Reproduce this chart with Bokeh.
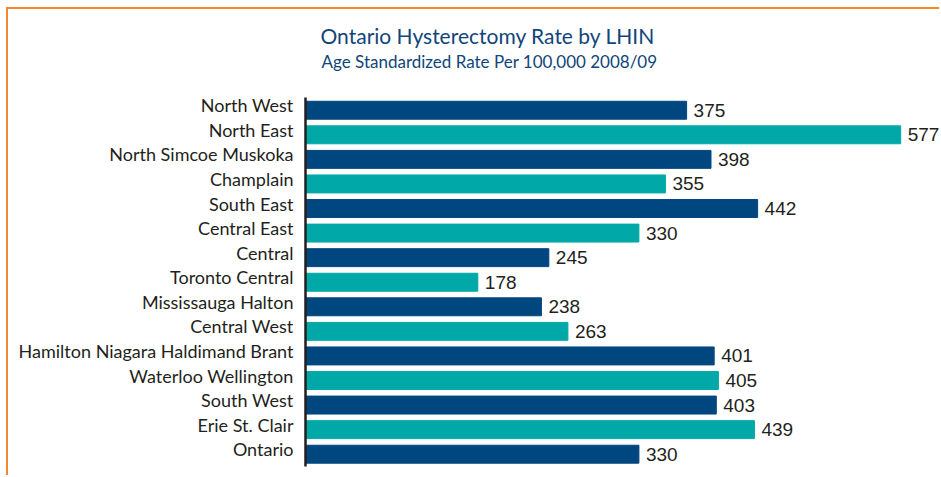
from bokeh.plotting import figure
from bokeh.models import ColumnDataSource, Range1d, FixedTicker
from bokeh.core.properties import value
from bokeh.embed import file_html
from bokeh.resources import INLINE

categories = ["North West", "North East", "North Simcoe Muskoka", "Champlain", "South East",
              "Central East", "Central", "Toronto Central", "Mississauga Halton", "Central West",
              "Hamilton Niagara Haldimand Brant", "Waterloo Wellington", "South West",
              "Erie St. Clair", "Ontario"]
rates = [375, 577, 398, 355, 442, 330, 245, 178, 238, 263, 401, 405, 403, 439, 330]
bar_colors = ["#00467f", "#00a9a7"] * 7 + ["#00467f"]
title_text = "Ontario Hysterectomy Rate by LHIN"
subtitle_text = "Age Standardized Rate Per 100,000 2008/09"

pos = list(range(len(categories)))          # 0 = top row
src = ColumnDataSource(dict(pos=pos, rate=rates, color=bar_colors,
                            label=[str(v) for v in rates]))

X0, X1 = 15.4, 615.5
Y_BOTTOM, Y_TOP = 14.5, -4.1
p = figure(width=933, height=468, output_backend="svg", toolbar_location=None,
           x_range=Range1d(X0, X1), y_range=Range1d(Y_BOTTOM, Y_TOP))
p.styles = {"border-top": "2px solid #f08a2c", "border-left": "2px solid #f08a2c",
            "margin-top": "7px", "margin-left": "6px"}
p.min_border_left = 297
p.min_border_right = 0
p.min_border_top = 0
p.min_border_bottom = 11
p.outline_line_color = None
p.grid.visible = False
p.xaxis.visible = False
p.background_fill_color = "white"
p.border_fill_color = "white"

p.hbar(y="pos", right="rate", left=0, height=0.73, color="color", source=src)
p.text(x="rate", y="pos", text="label", x_offset=7, text_baseline="middle",
       text_font=value("Liberation Sans"), text_font_size="19px", text_color="#231f20",
       source=src)

# titles, placed from the top-left corner of the plotting area
p.text(x=[X0], y=[Y_TOP], text=[title_text], x_offset=15, y_offset=26,
       text_baseline="alphabetic", text_font=value("Lato"), text_font_size="21px",
       text_color="#11457a")
p.text(x=[X0], y=[Y_TOP], text=[subtitle_text], x_offset=16, y_offset=52,
       text_baseline="alphabetic", text_font=value("Lato"), text_font_size="17px",
       text_color="#11457a")

ya = p.yaxis[0]
ticks = [round(i - 0.2, 1) for i in pos]
ya.ticker = FixedTicker(ticks=ticks)
ya.major_label_overrides = {t: c for t, c in zip(ticks, categories)}
ya.bounds = (-0.5, 14.5)
ya.axis_line_color = "#231f20"
ya.axis_line_width = 2.5
ya.major_tick_line_color = None
ya.minor_tick_line_color = None
ya.major_label_standoff = 6
ya.major_label_text_font = "Lato"
ya.major_label_text_font_size = "18px"
ya.major_label_text_color = "#231f20"

open("out.html", "w").write(file_html(p, INLINE))
